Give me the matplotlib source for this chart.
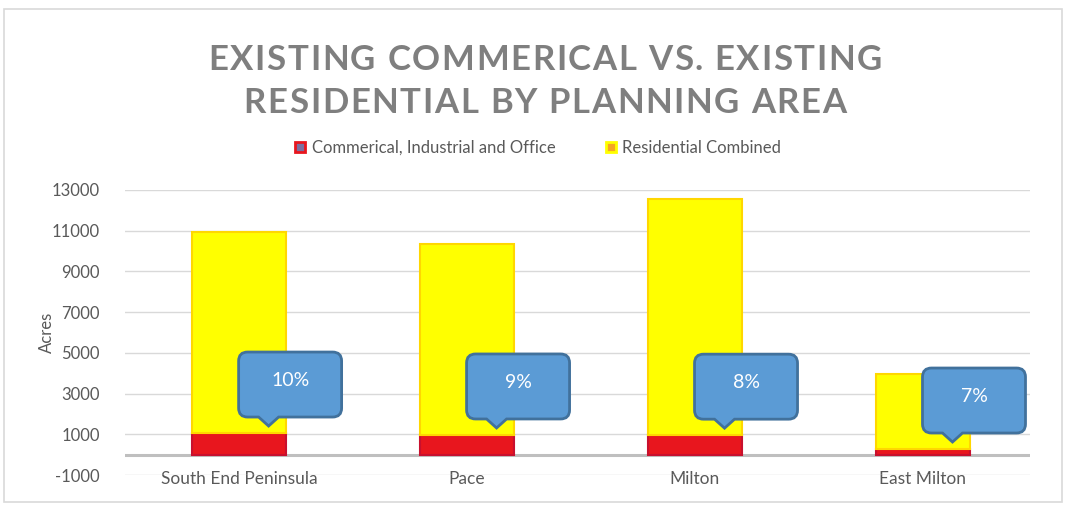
import matplotlib
matplotlib.use("Agg")
import matplotlib.pyplot as plt
from matplotlib.patches import Patch, PathPatch, Rectangle
from matplotlib.path import Path
from matplotlib.transforms import IdentityTransform

# ---- data ----
categories = ["South End Peninsula", "Pace", "Milton", "East Milton"]
commercial = [1055, 960, 950, 270]
residential = [9875, 9380, 11600, 3680]
pct_labels = ["10%", "9%", "8%", "7%"]
yticks = [-1000, 1000, 3000, 5000, 7000, 9000, 11000, 13000]
title_lines = ["EXISTING COMMERICAL VS. EXISTING", "RESIDENTIAL BY PLANNING AREA"]
series_names = ["Commerical, Industrial and Office", "Residential Combined"]

FONT = ["Lato", "DejaVu Sans"]
GRAY = "#595959"

fig = plt.figure(figsize=(10.7, 5.11), dpi=100)
fig.patch.set_facecolor("white")

# outer border
fig.patches.append(Rectangle((4 / 1070, 1 - 502 / 511), (1062 - 4) / 1070, (502 - 9) / 511,
                             transform=fig.transFigure, fill=False,
                             edgecolor="#D9D9D9", linewidth=1.2))

ax = fig.add_axes([125 / 1070, 1 - 475 / 511, 905 / 1070, (475 - 190) / 511])
x = list(range(len(categories)))
w = 0.415
ax.bar(x, commercial, width=w, color="#E8161E", edgecolor="#C8102E", linewidth=1.5, zorder=3)
ax.bar(x, residential, width=w, bottom=commercial, color="#FFFF00",
       edgecolor="#FFD700", linewidth=1.5, zorder=3)

ax.set_ylim(-1000, 13000)
ax.set_xlim(-0.5, 3.47)
ax.set_yticks(yticks)
ax.set_yticklabels([str(v) for v in yticks])
ax.set_xticks(x)
ax.set_xticklabels(categories)
ax.tick_params(axis="both", length=0, labelsize=12, labelcolor=GRAY)
ax.tick_params(axis="x", labelsize=12.5, pad=-3)
ax.tick_params(axis="y", pad=18)
for lab in ax.get_xticklabels() + ax.get_yticklabels():
    lab.set_family(FONT)
for s in ax.spines.values():
    s.set_visible(False)
ax.grid(axis="y", color="#D9D9D9", linewidth=1, zorder=0)
ax.axhline(0, color="#BFBFBF", linewidth=2.2, zorder=2)
ax.set_ylabel("Acres", fontsize=12, color=GRAY, family=FONT, labelpad=-2)

# title with letter spacing
fig.canvas.draw()
renderer = fig.canvas.get_renderer()


def spaced_title(line, ycenter_px, size, spacing_px):
    texts = []
    widths = []
    for ch in line:
        t = fig.text(0, 0, ch, fontsize=size, fontweight="bold", color="#7F7F7F",
                     family=FONT, ha="left", va="center")
        bb = t.get_window_extent(renderer)
        wch = bb.width if ch != " " else size * 100 / 72 * 0.25
        texts.append(t)
        widths.append(wch)
    total = sum(widths) + spacing_px * (len(line) - 1)
    xpos = 545 - total / 2
    for t, wch in zip(texts, widths):
        t.set_position((xpos / 1070, 1 - ycenter_px / 511))
        xpos += wch + spacing_px


spaced_title(title_lines[0], 60, 25, 1.6)
spaced_title(title_lines[1], 103, 25, 1.6)

# legend
handles = [Patch(facecolor="#7B6FA0", edgecolor="#E8161E", linewidth=2),
           Patch(facecolor="#F5A623", edgecolor="#FFFF00", linewidth=2)]
leg = fig.legend(handles, series_names, loc="center", bbox_to_anchor=(0.503, 1 - 148 / 511),
                 ncol=2, frameon=False, handlelength=0.6, handleheight=0.6,
                 columnspacing=3.0, handletextpad=0.4, prop={"family": FONT, "size": 12})
for t in leg.get_texts():
    t.set_color(GRAY)

# callouts (drawn in pixel space)
fig.canvas.draw()


def callout(xc, ytip, text):
    tx, ty = ax.transData.transform((xc, ytip))
    left = tx - 30
    right = left + 103
    bottom = ty + 9
    top = bottom + 65
    r = 9
    hw = 10
    verts = [
        (tx, ty),
        (tx + hw, bottom),
        (right - r, bottom),
        (right, bottom), (right, bottom + r),
        (right, top - r),
        (right, top), (right - r, top),
        (left + r, top),
        (left, top), (left, top - r),
        (left, bottom + r),
        (left, bottom), (left + r, bottom),
        (tx - hw, bottom),
        (tx, ty),
    ]
    codes = [Path.MOVETO, Path.LINETO, Path.LINETO,
             Path.CURVE3, Path.CURVE3, Path.LINETO,
             Path.CURVE3, Path.CURVE3, Path.LINETO,
             Path.CURVE3, Path.CURVE3, Path.LINETO,
             Path.CURVE3, Path.CURVE3, Path.LINETO, Path.CLOSEPOLY]
    p = PathPatch(Path(verts, codes), facecolor="#5B9BD5", edgecolor="#41719C",
                  linewidth=2, transform=IdentityTransform(), zorder=5)
    fig.patches.append(p)
    fig.text((left + right) / 2 / fig.bbox.width, (bottom + top) / 2 / fig.bbox.height + 4 / 511,
             text, ha="center", va="center", color="white", fontsize=14, family=FONT, zorder=6)


for i in x:
    callout(i + 0.13, commercial[i] + 350, pct_labels[i])

fig.savefig("out.png", dpi=100)
